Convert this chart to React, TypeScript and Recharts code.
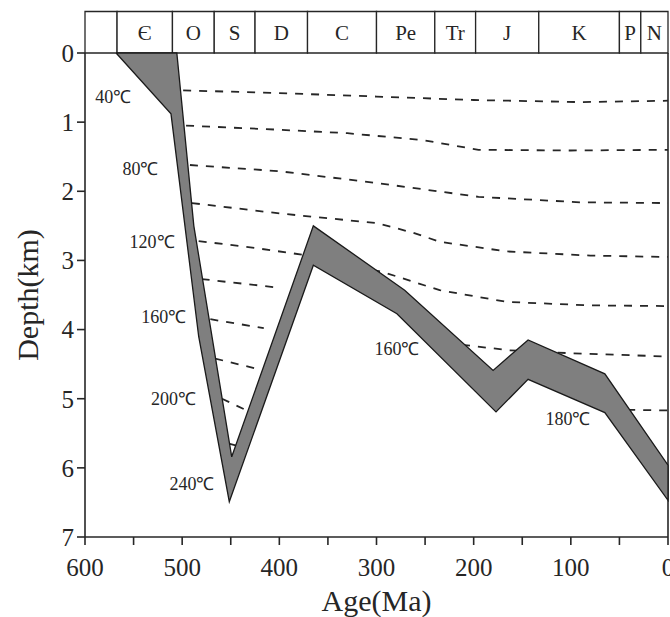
import { ScatterChart, Scatter, XAxis, YAxis, ReferenceArea, ReferenceLine, LabelList, Label } from 'recharts'

const INK = '#262626'
const SERIF = "'Liberation Serif', 'Times New Roman', serif"

// geologic time strip (Ma), boundaries as drawn in the figure
const periodNames = ['', 'Є', 'O', 'S', 'D', 'C', 'Pe', 'Tr', 'J', 'K', 'P', 'N']
const periodBounds = [600, 567, 510, 467, 425, 371, 300, 240, 198, 133, 50, 28, 0]

const ageTicks = [600, 550, 500, 450, 400, 350, 300, 250, 200, 150, 100, 50, 0]
const depthTicks = [0, 1, 2, 3, 4, 5, 6, 7]

// burial path of the unit, [age Ma, depth km]
const baseHorizon: [number, number][] = [
  [568, 0], [511.5, 0.88], [483, 4.1], [451.5, 6.49], [365, 3.07],
  [279, 3.77], [177, 5.19], [144, 4.72], [65, 5.2], [0, 6.47],
]
const topHorizon: [number, number][] = [
  [505.5, 0], [488, 2.5], [449, 5.84], [365, 2.5], [271, 3.43],
  [180, 4.59], [144, 4.15], [65, 4.64], [0, 5.96],
]

// isotherms (dashed), only where they sit above the unit
const isotherms: [number, number][][] = [
  [[499, 0.54], [400, 0.58], [300, 0.63], [200, 0.68], [90, 0.71], [0, 0.69]],
  [[496, 1.05], [400, 1.11], [330, 1.16], [252, 1.26], [195, 1.4], [100, 1.41], [0, 1.4]],
  [[492, 1.62], [400, 1.71], [300, 1.88], [195, 2.08], [90, 2.16], [0, 2.17]],
  [[490, 2.17], [400, 2.32], [300, 2.46], [262, 2.6], [235, 2.73], [166, 2.87], [80, 2.93], [0, 2.95]],
  [[483, 2.72], [430, 2.81], [375, 2.92], [293, 3.17], [235, 3.43], [166, 3.6], [80, 3.65], [0, 3.66]],
  [[480, 3.27], [403, 3.39]],
  [[471, 3.85], [416, 3.98]],
  [[466, 4.42], [425, 4.56]],
  [[459, 5.0], [435, 5.16]],
  [[452, 5.65], [444, 5.68]],
  [[212, 4.22], [163, 4.3], [104, 4.34], [0, 4.39]],
  [[42, 5.16], [0, 5.17]],
]

const labelText = ['40℃', '80℃', '120℃', '160℃', '200℃', '240℃', '160℃', '180℃']
const labelAge = [571, 543, 531, 519, 509, 490, 279, 103]
const labelDepth = [0.63, 1.67, 2.73, 3.81, 5.0, 6.23, 4.27, 5.29]

const toPts = (arr: [number, number][]) => arr.map(([age, depth]) => ({ age, depth }))

const band = [...toPts(baseHorizon), ...toPts([...topHorizon].reverse()), toPts(baseHorizon)[0]]
const labels = labelText.map((text, i) => ({ age: labelAge[i], depth: labelDepth[i], text }))

const NoDot = () => <g />

function DepthTitle({ viewBox }: any) {
  const x = viewBox.x + 27
  const y = viewBox.y + viewBox.height / 2
  return (
    <text x={x} y={y} transform={`rotate(-90 ${x} ${y})`} textAnchor="middle" dominantBaseline="central" fontSize={30} fill={INK}>
      Depth(km)
    </text>
  )
}

export default function App() {
  return (
    <div style={{ position: 'absolute', left: 0, top: 0, fontFamily: SERIF, background: '#fff' }}>
      <ScatterChart width={670} height={617} margin={{ top: 53, right: 2, bottom: 0, left: 0 }}>
        <XAxis
          type="number"
          dataKey="age"
          domain={[0, 600]}
          reversed
          ticks={ageTicks}
          interval={0}
          tickFormatter={(v: number) => (v % 100 === 0 ? String(v) : '')}
          height={80}
          tickSize={8}
          tickMargin={13}
          axisLine={{ stroke: INK, strokeWidth: 1.6 }}
          tickLine={{ stroke: INK, strokeWidth: 1.6 }}
          tick={{ fill: INK, fontSize: 25 }}
        >
          <Label value="Age(Ma)" position="insideBottom" offset={6} fill={INK} fontSize={30} />
        </XAxis>
        <YAxis
          type="number"
          dataKey="depth"
          domain={[0, 7]}
          reversed
          ticks={depthTicks}
          interval={0}
          width={85}
          tickSize={8}
          tickMargin={3}
          axisLine={{ stroke: INK, strokeWidth: 1.6 }}
          tickLine={{ stroke: INK, strokeWidth: 1.6 }}
          tick={{ fill: INK, fontSize: 25 }}
        >
          <Label content={DepthTitle} />
        </YAxis>

        {periodNames.map((name, i) => (
          <ReferenceArea
            key={i}
            x1={periodBounds[i]}
            x2={periodBounds[i + 1]}
            y1={-0.6}
            y2={0}
            ifOverflow="visible"
            fill="#fff"
            fillOpacity={1}
            stroke={INK}
            strokeWidth={1.3}
            label={{ value: name, position: 'center', fill: INK, fontSize: 21 }}
          />
        ))}
        <ReferenceLine x={0} stroke={INK} strokeWidth={1.6} />

        {isotherms.map((iso, i) => (
          <Scatter
            key={i}
            data={toPts(iso)}
            line={{ stroke: INK, strokeWidth: 1.8, strokeDasharray: '8 8' }}
            lineType="joint"
            shape={NoDot}
            isAnimationActive={false}
          />
        ))}
        <Scatter
          data={band}
          line={{ stroke: '#1a1a1a', strokeWidth: 1.3, fill: '#7f7f7f' }}
          lineType="joint"
          shape={NoDot}
          isAnimationActive={false}
        />
        <Scatter data={labels} shape={NoDot} isAnimationActive={false}>
          <LabelList dataKey="text" position="center" fill={INK} fontSize={18} />
        </Scatter>
      </ScatterChart>
    </div>
  )
}
